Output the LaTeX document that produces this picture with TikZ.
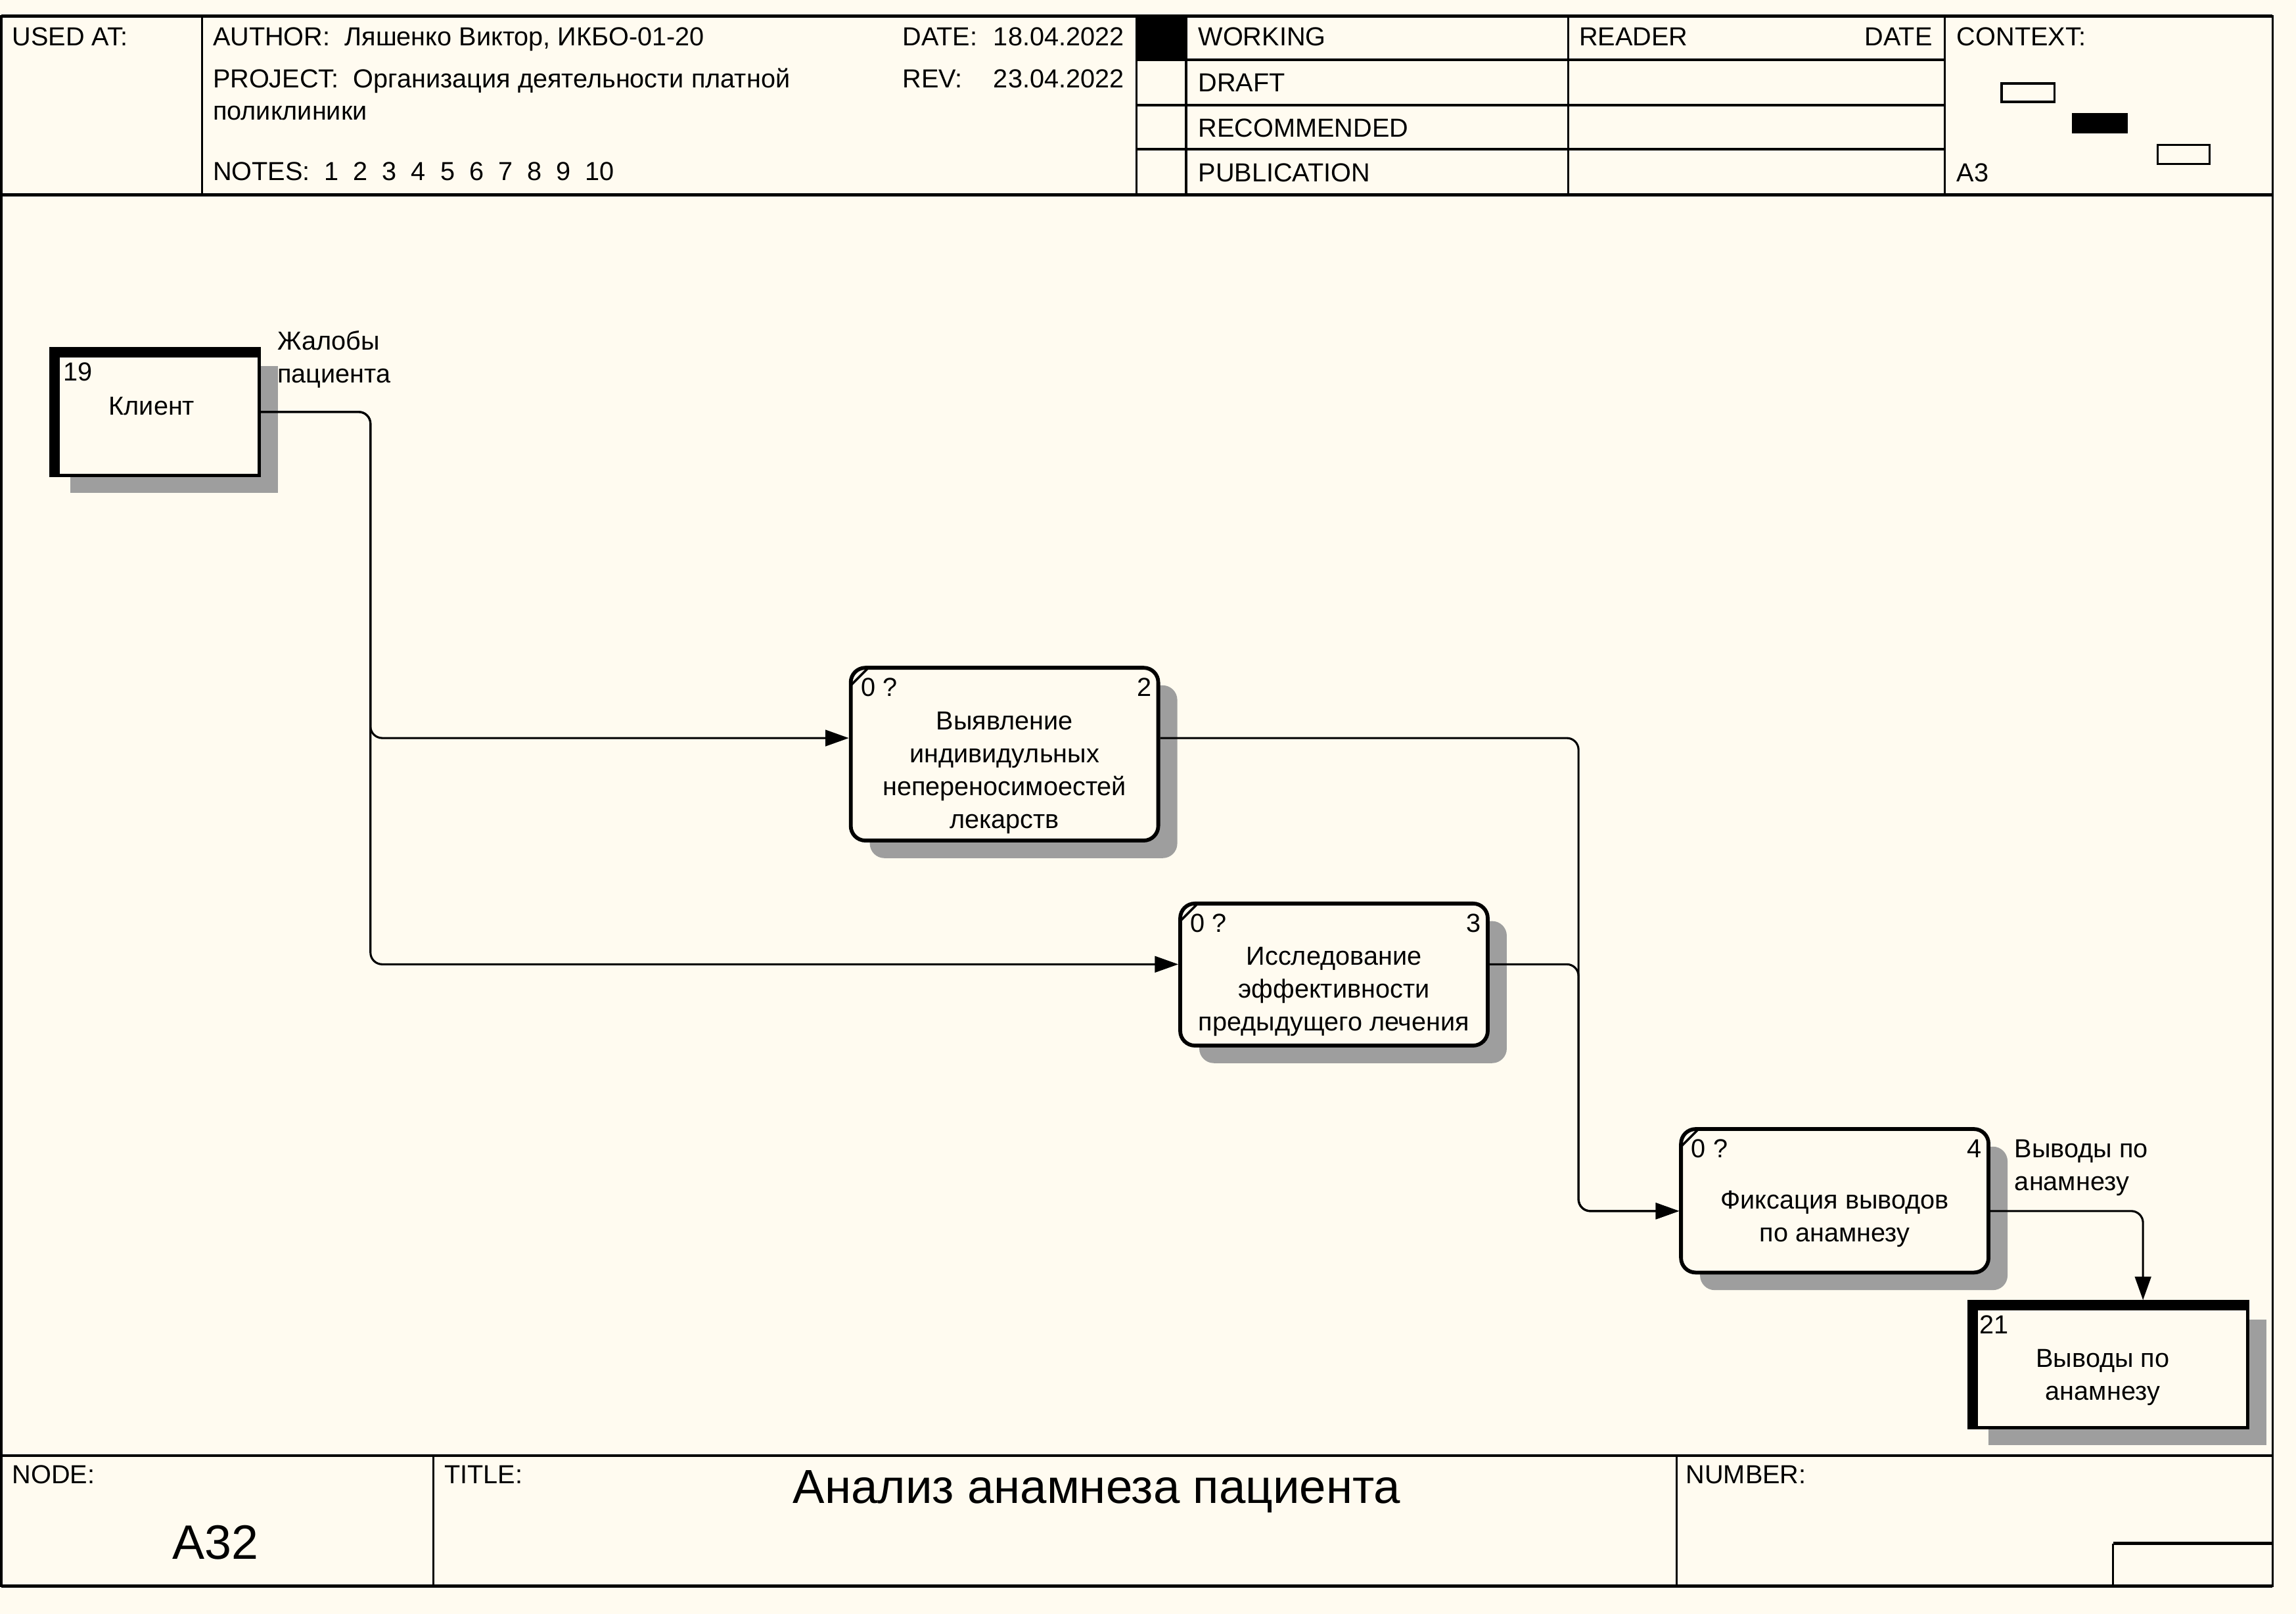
\documentclass[tikz,border=0pt]{standalone}
\usepackage{fontspec}
\setmainfont{Liberation Sans}
\usetikzlibrary{arrows.meta,shadows}
\definecolor{paper}{RGB}{255,251,240}
\begin{document}
\begin{tikzpicture}[x=0.5pt,y=-0.5pt,font=\fontsize{8.9}{11.2}\selectfont]
        \tikzstyle{act} = [draw,line width=1.3pt,fill=paper,rounded corners=5pt,minimum width=105pt,
            drop shadow={shadow xshift=6.5pt,shadow yshift=-6pt,fill=black!38,opacity=1},
            path picture={\draw[black,line width=0.8pt] ([yshift=-6pt]path picture bounding box.north west) -- ([xshift=6pt]path picture bounding box.north west);}]
        \tikzstyle{ext} = [draw,line width=1.2pt,fill=paper,
            drop shadow={shadow xshift=6.5pt,shadow yshift=-6pt,fill=black!38,opacity=1},
            path picture={\fill[black] (path picture bounding box.north west) rectangle ([xshift=3pt]path picture bounding box.south west);
                          \fill[black] (path picture bounding box.north west) rectangle ([yshift=-3pt]path picture bounding box.north east);}]
        \tikzstyle{num} = [inner sep=0pt]
        \tikzstyle{txt} = [align=center,inner sep=0pt]
        \tikzstyle{hdr} = [anchor=base west,inner sep=0pt]
        \tikzstyle{lbl} = [anchor=west,align=left,inner sep=0pt]
        \tikzstyle{flow} = [-{Triangle[length=8pt,width=5.5pt]},line width=0.7pt,rounded corners=4pt]


        \path[fill=paper,use as bounding box] (0,0) rectangle (1568,1102);
        \draw[line width=0.8pt] (1,11) rectangle (1552,1083);
        \draw[line width=1.1pt] (1,11) -- (1552,11) (1,133) -- (1552,133) (1,994) -- (1552,994) (1,1083) -- (1552,1083);
        \draw[line width=0.7pt] (138,11) -- (138,133) (776,11) -- (776,133) (810,11) -- (810,133) (1071,11) -- (1071,133) (1328,11) -- (1328,133);
        \draw[line width=0.9pt] (776,41) -- (1328,41) (776,72) -- (1328,72) (776,102) -- (1328,102);
        \fill (776,11) rectangle (810,41);
        \draw[line width=0.8pt] (1367,57) rectangle (1403,69.5) (1473.5,99) rectangle (1509,112);
        \fill (1415,77.3) rectangle (1453,91.3);
        \draw[line width=0.7pt] (296,994) -- (296,1083) (1145,994) -- (1145,1083) (1443,1083) -- (1443,1054);
        \draw[line width=1.1pt] (1443,1054) -- (1552,1054);


        \node[hdr] (usedat) at (8,31.4) {USED AT:};
        \node[hdr] (author) at (145,31.4) {AUTHOR:\ \ Ляшенко Виктор, ИКБО-01-20};
        \node[hdr] (date) at (616,31.4) {DATE:};
        \node[hdr,anchor=base east] (dateval) at (768,31.4) {18.04.2022};
        \node[hdr] (project) at (145,59.8) {PROJECT:\ \ Организация деятельности платной};
        \node[hdr] (project2) at (145,82) {поликлиники};
        \node[hdr] (rev) at (616,59.8) {REV:};
        \node[hdr,anchor=base east] (revval) at (768,59.8) {23.04.2022};
        \node[hdr] (notes) at (145,123.4) {NOTES:\ \ 1\ \ 2\ \ 3\ \ 4\ \ 5\ \ 6\ \ 7\ \ 8\ \ 9\ \ 10};
        \node[hdr] (working) at (818,31.4) {WORKING};
        \node[hdr] (draft) at (818,62.8) {DRAFT};
        \node[hdr] (recom) at (818,93.5) {RECOMMENDED};
        \node[hdr] (publ) at (818,123.9) {PUBLICATION};
        \node[hdr] (reader) at (1078,31.4) {READER};
        \node[hdr,anchor=base east] (rdate) at (1320,31.4) {DATE};
        \node[hdr] (context) at (1336,31.4) {CONTEXT:};
        \node[hdr] (sheet) at (1336,123.9) {A3};
        \node[hdr] (nodelbl) at (8,1013) {NODE:};
        \node[hdr] (titlelbl) at (303,1013) {TITLE:};
        \node[hdr] (numlbl) at (1151,1013) {NUMBER:};
        \node[hdr,anchor=base,font=\fontsize{16.5}{20}\selectfont] (nodeid) at (147,1064.5) {A32};
        \node[hdr,anchor=base,font=\fontsize{16.3}{20}\selectfont] (title) at (749,1026.5) {Анализ анамнеза пациента};


        \node[ext,minimum width=71pt,minimum height=43.3pt,
              label={[num,anchor=north west,xshift=4.5pt,yshift=-5.2pt]north west:19},
              label={[txt,xshift=-1.2pt,yshift=2pt]center:Клиент}] (A) at (106,281.3){};
        \node[act,minimum height=59pt,
              label={[num,anchor=north west,xshift=4pt,yshift=-4pt]north west:0 ?},
              label={[num,anchor=north east,xshift=-2.8pt,yshift=-4pt]north east:2},
              label={[txt,yshift=-6.3pt]center:{Выявление\\индивидульных\\непереносимоестей\\лекарств}}] (B) at (686,515){};
        \node[act,minimum height=48.5pt,
              label={[num,anchor=north west,xshift=4pt,yshift=-4pt]north west:0 ?},
              label={[num,anchor=north east,xshift=-2.8pt,yshift=-4pt]north east:3},
              label={[txt,yshift=-5.8pt]center:{Исследование\\эффективности\\предыдущего лечения}}] (C) at (911,665.5){};
        \node[act,minimum height=49pt,
              label={[num,anchor=north west,xshift=4pt,yshift=-4pt]north west:0 ?},
              label={[num,anchor=north east,xshift=-2.8pt,yshift=-4pt]north east:4},
              label={[txt,yshift=-6.3pt]center:{Фиксация выводов\\по анамнезу}}] (D) at (1253,820){};
        \node[ext,minimum width=95pt,minimum height=43pt,
              label={[num,anchor=north west,xshift=3.8pt,yshift=-5pt]north west:21},
              label={[txt,xshift=-2pt,yshift=-4.3pt]center:{Выводы по\\анамнезу}}] (E) at (1440,932){};


        \coordinate (j1) at (253,504);
        \coordinate (j2) at (253,658.5);
        \coordinate (j3) at (1078,827);
        \coordinate (j4) at (1463.5,827);

        \draw[flow] (A.east) -| (j1) -- (B.west |- j1);
        \draw[flow] (A.east) -| (j2) -- (C.west |- j2);
        \draw[flow] (B.east |- j1) -| (j3) -- (D.west |- j3);
        \draw[flow] (C.east |- j2) -| (j3) -- (D.west |- j3);
        \draw[flow] (D.east |- j3) -- (j4) -- (E.north -| j4);

        \node[lbl] (L1) at (189,245.5) {Жалобы\\пациента};
        \node[lbl] (L2) at (1375.5,797.5) {Выводы по\\анамнезу};


    \end{tikzpicture}
\end{document}
